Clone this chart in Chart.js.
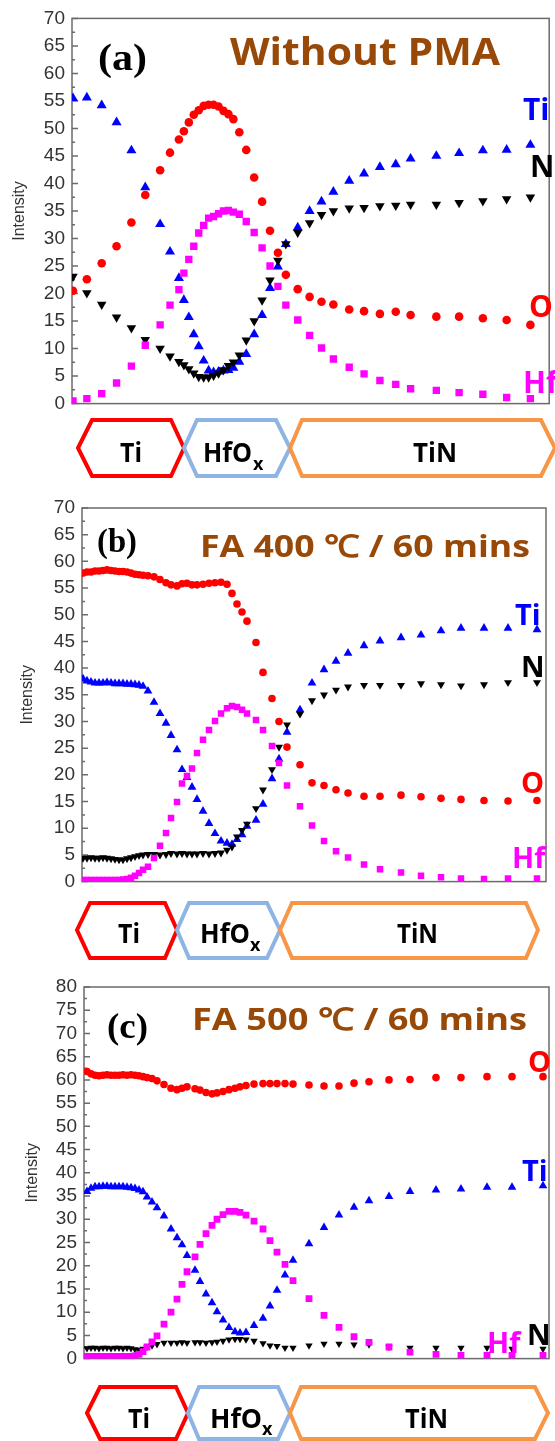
<!DOCTYPE html>
<html>
<head>
<meta charset="utf-8">
<script src="https://cdn.jsdelivr.net/npm/chart.js@4.4.0/dist/chart.umd.min.js"></script>
<style>
  html, body { margin: 0; padding: 0; background: #fff; }
  #page { position: relative; width: 555px; height: 1441px; overflow: hidden; }
  canvas { position: absolute; left: 0; }
  #overlay { position: absolute; left: 0; top: 0; }
  .lbl { font-family: "Open Sans", sans-serif; font-weight: 700; }
</style>
</head>
<body>
<div id="page">
  <canvas id="chartA" width="555" height="422" style="top:0px"></canvas>
  <canvas id="chartB" width="555" height="418" style="top:482px"></canvas>
  <canvas id="chartC" width="555" height="415" style="top:962px"></canvas>

  <svg id="overlay" width="555" height="1441" xmlns="http://www.w3.org/2000/svg">
    <!-- panel (a) texts -->
    <text x="98" y="70" font-family="Liberation Serif" font-weight="700" font-size="38" textLength="49" lengthAdjust="spacingAndGlyphs">(a)</text>
    <text class="lbl" x="230" y="65" font-size="38" fill="#984807" textLength="270" lengthAdjust="spacingAndGlyphs">Without PMA</text>
    <text class="lbl" x="523" y="120" font-size="30" fill="#0000ff">Ti</text>
    <text class="lbl" x="530" y="177" font-size="30" fill="#000">N</text>
    <text class="lbl" x="529" y="317" font-size="30" fill="#ff0000">O</text>
    <text class="lbl" x="523" y="393" font-size="30" fill="#ff00ff">Hf</text>

    <!-- panel (b) texts -->
    <text x="97" y="552" font-family="Liberation Serif" font-weight="700" font-size="34" textLength="40" lengthAdjust="spacingAndGlyphs">(b)</text>
    <text class="lbl" x="200" y="557" font-size="31" fill="#984807" textLength="330" lengthAdjust="spacingAndGlyphs">FA 400 ℃ / 60 mins</text>
    <text class="lbl" x="515" y="625" font-size="29" fill="#0000ff">Ti</text>
    <text class="lbl" x="521" y="677" font-size="29" fill="#000">N</text>
    <text class="lbl" x="521" y="793" font-size="29" fill="#ff0000">O</text>
    <text class="lbl" x="512" y="868" font-size="29" fill="#ff00ff">Hf</text>

    <!-- panel (c) texts -->
    <text x="107" y="1038" font-family="Liberation Serif" font-weight="700" font-size="36" textLength="41" lengthAdjust="spacingAndGlyphs">(c)</text>
    <text class="lbl" x="192" y="1030" font-size="31" fill="#984807" textLength="335" lengthAdjust="spacingAndGlyphs">FA 500 ℃ / 60 mins</text>
    <text class="lbl" x="528" y="1072" font-size="29" fill="#ff0000">O</text>
    <text class="lbl" x="522" y="1181" font-size="29" fill="#0000ff">Ti</text>
    <text class="lbl" x="527" y="1345" font-size="29" fill="#000">N</text>
    <text class="lbl" x="487" y="1353" font-size="29" fill="#ff00ff">Hf</text>

    <!-- layer stack under each panel -->
    <g fill="none" stroke-width="4" stroke-linejoin="miter">
      <polygon points="78,448 92,420 171,420 184,448 171,476 92,476" stroke="#ff0000"/>
      <polygon points="184,448 197,420 276,420 290,448 276,476 197,476" stroke="#8eb4e3"/>
      <polygon points="290,448 302,420 541,420 555,448 541,476 302,476" stroke="#f79646"/>

      <polygon points="77,930 90,903 165,903 177,930 165,958 90,958" stroke="#ff0000"/>
      <polygon points="177,930 189,903 267,903 280,930 267,958 189,958" stroke="#8eb4e3"/>
      <polygon points="280,930 292,903 526,903 538,930 526,958 292,958" stroke="#f79646"/>

      <polygon points="87,1413 100,1387 176,1387 188,1413 176,1439 100,1439" stroke="#ff0000"/>
      <polygon points="188,1413 199,1387 278,1387 290,1413 278,1439 199,1439" stroke="#8eb4e3"/>
      <polygon points="290,1413 301,1387 535,1387 548,1413 535,1439 301,1439" stroke="#f79646"/>
    </g>
    <g class="lbl" font-size="26" fill="#000">
      <text x="120" y="462" textLength="22" lengthAdjust="spacingAndGlyphs">Ti</text>
      <text x="203" y="462" textLength="49" lengthAdjust="spacingAndGlyphs">HfO</text>
      <text x="253" y="470" font-size="18">x</text>
      <text x="413" y="462" textLength="44" lengthAdjust="spacingAndGlyphs">TiN</text>

      <text x="118" y="943" textLength="22" lengthAdjust="spacingAndGlyphs">Ti</text>
      <text x="200" y="943" textLength="50" lengthAdjust="spacingAndGlyphs">HfO</text>
      <text x="250" y="951" font-size="18">x</text>
      <text x="397" y="943" textLength="41" lengthAdjust="spacingAndGlyphs">TiN</text>

      <text x="128" y="1428" textLength="22" lengthAdjust="spacingAndGlyphs">Ti</text>
      <text x="210" y="1428" textLength="52" lengthAdjust="spacingAndGlyphs">HfO</text>
      <text x="262" y="1435" font-size="18">x</text>
      <text x="405" y="1428" textLength="43" lengthAdjust="spacingAndGlyphs">TiN</text>
    </g>
  </svg>
</div>

<script>
// ---------- datos (profundidad en unidades arbitrarias) ----------
// (a) Without PMA
var xA = [73, 87, 102, 117, 132, 146, 161, 171, 180, 185, 190, 195, 200, 205, 210, 215, 220, 225, 230, 235,
          241, 248, 256, 264, 272, 280, 288, 300, 312, 324, 336, 352, 367, 383, 399, 414, 440, 463, 487, 511, 535];
var oA = [20.5, 22.6, 25.5, 28.6, 32.9, 37.9, 42.4, 45.6, 48, 49.5, 51.1, 52.5, 53.3, 54.1, 54.3, 54.3, 54, 53.2, 52.6, 51.7,
          49.3, 46.1, 41.1, 36.7, 31.4, 27.4, 23.4, 20.8, 19.4, 18.5, 18, 17.1, 16.8, 16.3, 16.7, 16.1, 15.8, 15.8, 15.5, 15.2, 14.3];
var tiA = [55.5, 55.6, 54.2, 51.1, 46, 39.3, 32.6, 27.6, 22.8, 18.8, 15.7, 12.6, 10.4, 7.8, 6, 5.7, 5.8, 6, 6.1, 6.5,
           7.6, 9, 12.6, 16.1, 21, 24.9, 29, 32, 35, 36.7, 38.5, 40.5, 41.8, 43, 43.5, 44.5, 45, 45.5, 46, 46.1, 47];
var nA = [23.1, 20.1, 18, 15.7, 13.75, 11.6, 10, 8.6, 7.6, 7, 6.3, 5.5, 4.9, 4.8, 4.8, 5.1, 5.5, 6.1, 6.9, 7.5,
          8.8, 11.5, 15, 18.8, 22.4, 26, 29, 31.1, 32.8, 34.3, 35, 35.5, 35.6, 35.9, 36, 36.2, 36.2, 36.5, 36.8, 37.2, 37.5];
var hfA = [0.5, 0.9, 1.8, 3.75, 6.8, 10.6, 14.3, 17.9, 20.7, 23.7, 26.2, 28.6, 31, 32.4, 33.7, 34, 34.5, 35, 35.1, 34.8,
           34.4, 33.1, 31.1, 28.3, 25, 21.3, 17.9, 15.2, 12.4, 10.1, 8.1, 6.6, 5.4, 4.2, 3.5, 2.7, 2.4, 2, 1.7, 1.1, 0.9];

// (b) FA 400 C / 60 mins
var xB = [83, 87, 91, 95, 99, 103, 107, 111, 115, 119, 123, 127, 131, 135, 139, 143,
          148, 154, 160, 166, 171, 177, 182, 187, 192, 197, 203, 209, 215, 221, 227, 232, 237, 242, 247,
          256, 263, 272, 279, 287, 300, 312, 324, 336, 348, 364, 380, 401, 421, 441, 461, 484, 508, 537];
var oB = [57.8, 58, 58, 58.2, 58.2, 58.3, 58.4, 58.3, 58.2, 58.1, 58.1, 58, 57.8, 57.6, 57.5, 57.4,
          57.3, 57.1, 56.6, 56, 55.6, 55.4, 55.8, 55.9, 55.6, 55.6, 55.7, 55.9, 56, 56.1, 55.7, 54, 52, 50.5, 48.8,
          44.8, 39.2, 34.3, 30, 25.2, 21.9, 18.5, 18, 17.2, 16.6, 16, 16, 16.2, 15.9, 15.6, 15.4, 15.2, 15.1, 15.2];
var tiB = [38, 37.6, 37.4, 37.2, 37.2, 37.2, 37.3, 37.2, 37.1, 37.1, 37.1, 37, 37, 36.9, 36.8, 36.6,
           35.7, 33.6, 31.5, 29.7, 27.4, 24.7, 21, 19.5, 17.7, 15.4, 13.2, 10.9, 9, 7.6, 7.2, 7, 7.9, 8.8, 10.4,
           11.5, 14.5, 19.3, 23, 28, 32.2, 37.2, 39.7, 41.3, 42.8, 44.2, 45.1, 45.7, 46.2, 47, 47.5, 47.5, 47.5, 47.2];
var nB = [4.4, 4.4, 4.5, 4.4, 4.4, 4.5, 4.4, 4.3, 4.2, 4.1, 4.1, 4.3, 4.5, 4.7, 4.9, 5,
          5.1, 5.1, 5, 5.1, 5.3, 5.2, 5.3, 5.2, 5.2, 5.2, 5.3, 5.2, 5.3, 5.4, 5.9, 6.5, 8.4, 9.6, 10.8,
          13.7, 17.2, 21, 25.2, 29.4, 31.4, 33.9, 35, 35.9, 36.5, 36.8, 36.8, 36.8, 37.1, 36.9, 36.7, 36.9, 37.3, 37.3];
var hfB = [0.3, 0.3, 0.3, 0.3, 0.3, 0.3, 0.3, 0.3, 0.3, 0.3, 0.4, 0.5, 0.7, 1.1, 1.6, 2.2,
           2.8, 4.4, 6.7, 9.1, 11.9, 14.9, 18.4, 19.8, 21.2, 24.1, 26.6, 28.4, 30.1, 31.5, 32.5, 32.9, 32.7, 32.2, 31.5,
           30.3, 28.4, 25.4, 22.2, 18, 14.1, 10.5, 7.6, 5.7, 4.5, 3.2, 2.3, 1.7, 1.1, 0.8, 0.6, 0.5, 0.6, 0.6];

// (c) FA 500 C / 60 mins
var xC = [87, 91, 95, 99, 103, 107, 111, 115, 119, 123, 127, 131, 135, 139, 143,
          147, 152, 157, 164, 171, 177, 182, 187, 195, 200, 206, 212, 217, 223, 229, 235, 240, 246, 254, 263,
          270, 277, 285, 293, 309, 324, 339, 354, 369, 389, 410, 436, 461, 487, 512, 543];
var oC = [61.8, 61.3, 61, 60.9, 61, 61.1, 61, 61, 61, 61.1, 61, 61.1, 61, 60.9, 60.7,
          60.5, 60.3, 59.8, 59, 58.2, 57.9, 58.2, 58.5, 58.1, 57.8, 57.3, 57, 57.2, 57.5, 57.9, 58.2, 58.5, 58.8, 59.1, 59.2,
          59.2, 59.2, 59.2, 59.1, 58.9, 58.7, 58.7, 59.3, 59.6, 60, 60.1, 60.5, 60.5, 60.7, 60.7, 60.7];
var tiC = [36, 36.7, 37, 37, 37.1, 37.1, 37, 37, 37, 37, 36.9, 36.8, 36.6, 36.3, 35.9,
           34.8, 33.7, 32.5, 30.7, 27.9, 26, 24.5, 22.2, 19, 16.6, 13.9, 12, 10.1, 8.3, 6.7, 5.8, 5.5, 5.6, 7.1, 8.7,
           11.3, 14.7, 18, 21.2, 24.7, 28.2, 30.9, 32.6, 34, 34.9, 36, 36.3, 36.5, 36.9, 36.9, 37.2];
var nC = [2.2, 2.3, 2.3, 2.2, 2.3, 2.3, 2.2, 2.3, 2.3, 2.2, 2.3, 2.2, 2, 1.9, 2.1,
          2.5, 2.8, 3.1, 3.4, 3.4, 3.4, 3.5, 3.4, 3.5, 3.5, 3.4, 3.5, 3.6, 3.8, 4.1, 4.2, 4.2, 4.1, 3.8, 3.3,
          2.8, 2.7, 2.3, 2.3, 2.8, 3.2, 3.2, 3, 3, 2.5, 2.3, 2.3, 2.3, 2.3, 2.1, 2.1];
var hfC = [0.5, 0.5, 0.5, 0.5, 0.5, 0.5, 0.5, 0.5, 0.5, 0.5, 0.5, 0.5, 0.6, 0.9, 1.5,
           2.5, 3.6, 4.9, 7.4, 10, 12.8, 16, 18.7, 21.9, 24.6, 26.9, 28.7, 30, 31, 31.7, 31.7, 31.5, 30.9, 29.6, 27.9,
           25.4, 22.9, 20.3, 16.8, 12.9, 9.3, 6.7, 4.7, 3.5, 2.5, 1.4, 0.9, 0.7, 0.7, 0.7, 0.7];

// junta x con y para la grafica de dispersion
function puntos(xs, ys) {
    var data = [];
    for (var i = 0; i < xs.length; i++) {
        data.push({ x: xs[i], y: ys[i] });
    }
    return data;
}

// marco gris y marcas de la escala hacia adentro
var marco = {
    id: 'marco',
    beforeDatasetsDraw: function (chart) {
        var ctx = chart.ctx;
        var a = chart.chartArea;
        var y = chart.scales.y;
        ctx.save();
        ctx.strokeStyle = '#6b6b6b';
        ctx.lineWidth = 1.5;
        ctx.strokeRect(a.left, a.top, a.right - a.left, a.bottom - a.top);
        ctx.beginPath();
        y.ticks.forEach(function (t) {
            var py = y.getPixelForValue(t.value);
            ctx.moveTo(a.left, py);
            ctx.lineTo(a.left + 6, py);
            if (t.value + 2.5 < y.max) {
                var pm = y.getPixelForValue(t.value + 2.5);
                ctx.moveTo(a.left, pm);
                ctx.lineTo(a.left + 3, pm);
            }
        });
        ctx.stroke();
        ctx.restore();
    }
};

function crearGrafica(id, xs, series, yMax, area, tam) {
    var canvas = document.getElementById(id);
    var top = parseInt(canvas.style.top);
    return new Chart(canvas, {
        type: 'scatter',
        data: {
            datasets: [
                { label: 'Hf', data: puntos(xs, series.hf), pointStyle: 'rect', pointRadius: tam.rect,
                  backgroundColor: '#ff00ff', borderColor: '#ff00ff', borderWidth: 0 },
                { label: 'O', data: puntos(xs, series.o), pointStyle: 'circle', pointRadius: tam.circ,
                  backgroundColor: '#ff0000', borderColor: '#ff0000', borderWidth: 0 },
                { label: 'N', data: puntos(xs, series.n), pointStyle: 'triangle', rotation: 180, pointRadius: tam.down,
                  backgroundColor: '#000000', borderColor: '#000000', borderWidth: 0 },
                { label: 'Ti', data: puntos(xs, series.ti), pointStyle: 'triangle', pointRadius: tam.up,
                  backgroundColor: '#0000ff', borderColor: '#0000ff', borderWidth: 0 }
            ]
        },
        options: {
            responsive: false,
            animation: false,
            layout: {
                padding: { left: 0, top: area.top - top, right: 555 - area.right, bottom: top + canvas.height - area.bottom }
            },
            plugins: { legend: { display: false }, tooltip: { enabled: false } },
            scales: {
                x: { type: 'linear', display: false, min: area.left, max: area.right },
                y: {
                    min: 0, max: yMax,
                    border: { display: false },
                    grid: { display: false, drawTicks: false },
                    ticks: { stepSize: 5, padding: 7, color: '#333', autoSkip: false,
                             font: { family: 'Liberation Sans', size: 19 } },
                    title: { display: true, text: 'Intensity', color: '#333',
                             font: { family: 'Liberation Sans', size: 16 },
                             padding: { top: tam.title, bottom: 0 } },
                    afterFit: function (s) { s.width = area.left; }
                }
            }
        },
        plugins: [marco]
    });
}

crearGrafica('chartA', xA, { o: oA, ti: tiA, n: nA, hf: hfA }, 70,
    { left: 72, top: 17, right: 554, bottom: 409 },
    { circ: 4.3, up: 5.8, down: 5.5, rect: 5.2, title: 10 });
crearGrafica('chartB', xB, { o: oB, ti: tiB, n: nB, hf: hfB }, 70,
    { left: 82, top: 508, right: 546, bottom: 883 },
    { circ: 3.8, up: 5.1, down: 4.6, rect: 4.6, title: 18 });
crearGrafica('chartC', xC, { o: oC, ti: tiC, n: nC, hf: hfC }, 80,
    { left: 84, top: 987, right: 549, bottom: 1365 },
    { circ: 3.8, up: 5, down: 4.2, rect: 4.8, title: 23 });
</script>
</body>
</html>
